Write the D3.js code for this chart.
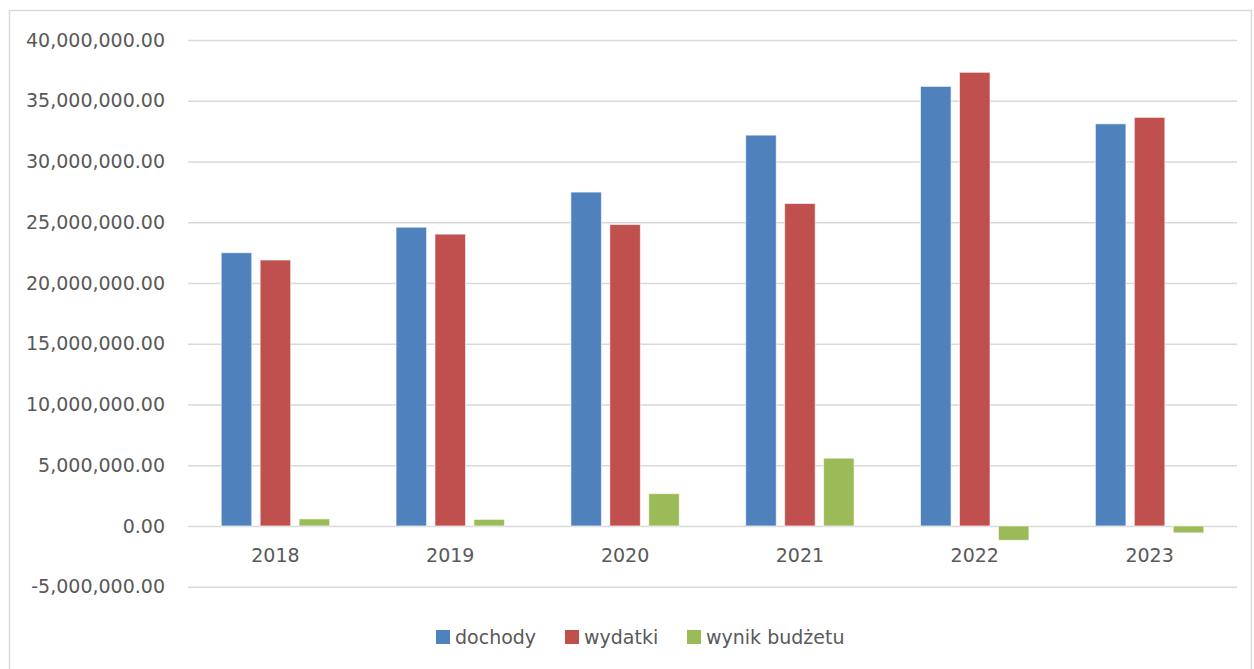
<!DOCTYPE html>
<html>
<head>
<meta charset="utf-8">
<script src="https://cdn.jsdelivr.net/npm/d3@7"></script>
<style>
  html, body { margin: 0; padding: 0; background: #ffffff; }
  svg { display: block; }
  text { font-family: "DejaVu Sans", sans-serif; }
</style>
</head>
<body>
<svg id="chart" width="1254" height="669"></svg>
<script>
// ---- data ----
const years = ["2018", "2019", "2020", "2021", "2022", "2023"];
const seriesNames = ["dochody", "wydatki", "wynik budżetu"];
const dochody = [22490000, 24590000, 27480000, 32170000, 36180000, 33100000];
const wydatki = [21890000, 24020000, 24810000, 26540000, 37340000, 33630000];
const wynik = [580000, 540000, 2660000, 5580000, -1180000, -570000];
const yTicks = [-5000000, 0, 5000000, 10000000, 15000000, 20000000, 25000000, 30000000, 35000000, 40000000];
const colors = ["#4F81BD", "#C0504D", "#9BBB59"];

const seriesValues = [dochody, wydatki, wynik];
const rows = years.map((yr, i) => ({ year: yr, values: seriesNames.map((s, j) => ({ key: s, idx: j, value: seriesValues[j][i] })) }));

const svg = d3.select("#chart");
const W = 1254, H = 669;
const plot = { left: 188, right: 1237, top: 40, bottom: 586.7 };

// outer border
svg.append("rect")
  .attr("x", 9.5).attr("y", 10.5)
  .attr("width", 1242).attr("height", 680)
  .attr("fill", "none").attr("stroke", "#d9d9d9").attr("stroke-width", 1.5);

const y = d3.scaleLinear().domain([-5000000, 40000000]).range([plot.bottom, plot.top]);
const x0 = d3.scaleBand().domain(years).range([plot.left, plot.right]).paddingInner(0).paddingOuter(0);
const groupW = x0.bandwidth() * 0.62;
const x1 = d3.scaleBand().domain(seriesNames).range([0, groupW]).paddingInner(0.216).paddingOuter(0);

const loc = d3.formatLocale({ decimal: ".", thousands: ",", grouping: [3], currency: ["", ""], minus: "-" });
const fmt = loc.format(",.2f");

// y axis with gridlines
const yAxis = svg.append("g")
  .attr("transform", `translate(${plot.left},0)`)
  .call(d3.axisLeft(y).tickValues(yTicks).tickSize(-(plot.right - plot.left)).tickPadding(23).tickFormat(fmt));
yAxis.select(".domain").remove();
yAxis.selectAll(".tick line").attr("stroke", "#d9d9d9").attr("stroke-width", 1.5);
yAxis.selectAll(".tick text").attr("fill", "#595959").attr("font-size", 19);

// bars
const groups = svg.append("g").selectAll("g")
  .data(rows).join("g")
  .attr("transform", d => `translate(${x0(d.year) + (x0.bandwidth() - groupW) / 2},0)`);
groups.selectAll("rect")
  .data(d => d.values).join("rect")
  .attr("x", d => x1(d.key))
  .attr("width", x1.bandwidth())
  .attr("y", d => y(Math.max(0, d.value)))
  .attr("height", d => Math.abs(y(d.value) - y(0)))
  .attr("fill", d => colors[d.idx])
  .attr("stroke", "rgba(255,255,255,0.6)").attr("stroke-width", 1);

// x axis labels at zero line
const xAxis = svg.append("g")
  .attr("transform", `translate(0,${y(0)})`)
  .call(d3.axisBottom(x0).tickSize(0).tickPadding(23));
xAxis.select(".domain").remove();
xAxis.selectAll(".tick text").attr("fill", "#595959").attr("font-size", 19);

// legend
const legendItems = [
  { name: seriesNames[0], color: colors[0], x: 436 },
  { name: seriesNames[1], color: colors[1], x: 565 },
  { name: seriesNames[2], color: colors[2], x: 687 }
];
const lg = svg.append("g");
const li = lg.selectAll("g").data(legendItems).join("g")
  .attr("transform", d => `translate(${d.x},637)`);
li.append("rect").attr("x", 0).attr("y", -7).attr("width", 14).attr("height", 14).attr("fill", d => d.color);
li.append("text").attr("x", 19).attr("y", 0).attr("dy", "0.35em")
  .attr("fill", "#595959").attr("font-size", 19).text(d => d.name);
</script>
</body>
</html>
